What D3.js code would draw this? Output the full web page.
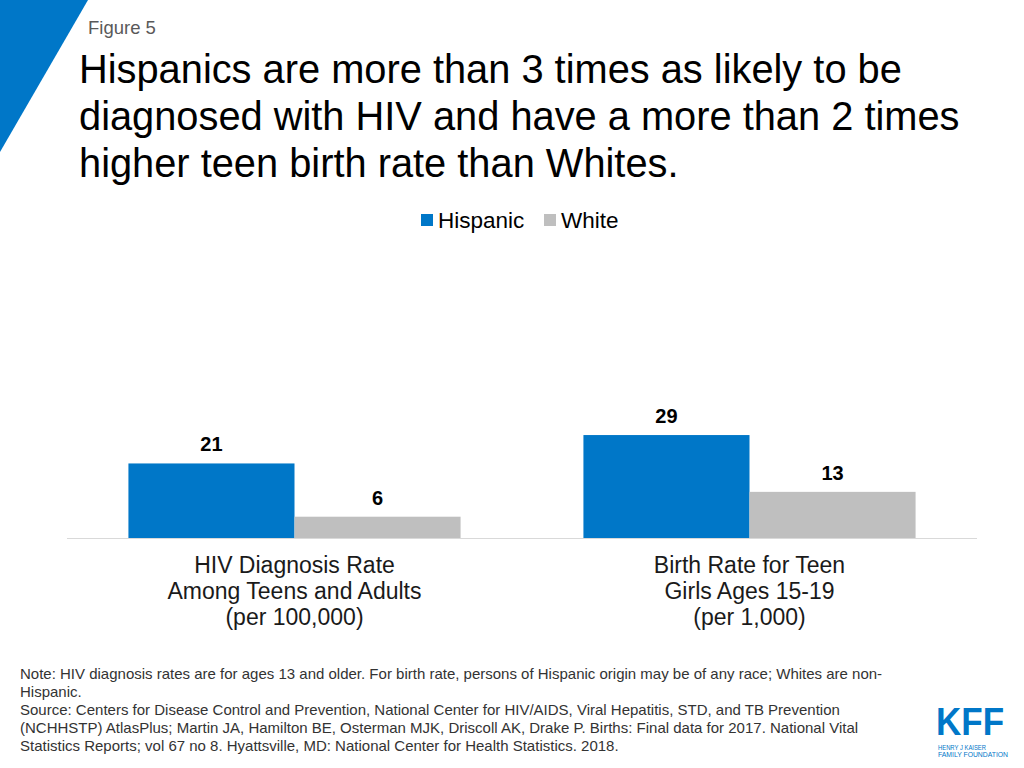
<!DOCTYPE html>
<html>
<head>
<meta charset="utf-8">
<script src="https://cdn.jsdelivr.net/npm/d3@7"></script>
<style>
  body { margin: 0; background: #fff; }
  text { font-family: "Liberation Sans", Arial, sans-serif; }
</style>
</head>
<body>
<svg id="chart" width="1024" height="768"></svg>
<script>
const categories = [
  ['HIV Diagnosis Rate', 'Among Teens and Adults', '(per 100,000)'],
  ['Birth Rate for Teen', 'Girls Ages 15-19', '(per 1,000)']
];
const series = ['Hispanic', 'White'];
const hispanic = [21, 29];
const white = [6, 13];
const colors = ['#0077c8', '#bfbfbf'];

const title_lines = [
  'Hispanics are more than 3 times as likely to be',
  'diagnosed with HIV and have a more than 2 times',
  'higher teen birth rate than Whites.'
];
const note_lines = [
  'Note: HIV diagnosis rates are for ages 13 and older. For birth rate, persons of Hispanic origin may be of any race; Whites are non-',
  'Hispanic.',
  'Source: Centers for Disease Control and Prevention, National Center for HIV/AIDS, Viral Hepatitis, STD, and TB Prevention',
  '(NCHHSTP) AtlasPlus; Martin JA, Hamilton BE, Osterman MJK, Driscoll AK, Drake P. Births: Final data for 2017. National Vital',
  'Statistics Reports; vol 67 no 8. Hyattsville, MD: National Center for Health Statistics. 2018.'
];

const svg = d3.select('#chart');

// corner triangle
svg.append('polygon')
  .attr('points', '0,0 88,0 0,152')
  .attr('fill', '#0077c8');

svg.append('text')
  .attr('x', 88).attr('y', 34)
  .attr('font-size', 18.5).attr('fill', '#595959')
  .text('Figure 5');

svg.append('g').selectAll('text')
  .data(title_lines)
  .join('text')
  .attr('x', 79)
  .attr('y', (d, i) => 83 + i * 47)
  .attr('font-size', 39.8)
  .attr('fill', '#000')
  .text(d => d);

// legend
const legend = svg.append('g');
const legend_x = [421, 544];
series.forEach(function(s, i) {
  legend.append('rect')
    .attr('x', legend_x[i]).attr('y', 214)
    .attr('width', 12).attr('height', 12)
    .attr('fill', colors[i]);
  legend.append('text')
    .attr('x', legend_x[i] + 17).attr('y', 228)
    .attr('font-size', 22.5).attr('fill', '#000')
    .text(s);
});

// scales
const x0 = d3.scaleBand()
  .domain(d3.range(categories.length))
  .range([67, 977])
  .paddingInner(0.27)
  .paddingOuter(0.135);
const x1 = d3.scaleBand()
  .domain(series)
  .range([0, x0.bandwidth()]);
const y = d3.scaleLinear()
  .domain([0, 60])
  .range([538, 325]);

const rows = categories.map((c, i) => ({ idx: i, values: [hispanic[i], white[i]] }));

const groups = svg.append('g').selectAll('g')
  .data(rows)
  .join('g')
  .attr('transform', d => 'translate(' + x0(d.idx) + ',0)');

groups.selectAll('rect')
  .data(d => d.values.map((v, j) => ({ key: series[j], value: v, j: j })))
  .join('rect')
  .attr('x', d => x1(d.key))
  .attr('y', d => y(d.value))
  .attr('width', x1.bandwidth())
  .attr('height', d => y(0) - y(d.value))
  .attr('fill', d => colors[d.j]);

groups.selectAll('text.val')
  .data(d => d.values.map((v, j) => ({ key: series[j], value: v })))
  .join('text')
  .attr('class', 'val')
  .attr('x', d => x1(d.key) + x1.bandwidth() / 2)
  .attr('y', d => y(d.value) - 12)
  .attr('text-anchor', 'middle')
  .attr('font-size', 20).attr('font-weight', 'bold')
  .attr('fill', '#000')
  .text(d => d.value);

// baseline
svg.append('line')
  .attr('x1', 67).attr('x2', 977)
  .attr('y1', y(0) + 0.5).attr('y2', y(0) + 0.5)
  .attr('stroke', '#d9d9d9').attr('stroke-width', 1);

// category labels
rows.forEach(function(r) {
  const cx = x0(r.idx) + x0.bandwidth() / 2;
  svg.append('g').selectAll('text')
    .data(categories[r.idx])
    .join('text')
    .attr('x', cx)
    .attr('y', (d, i) => 573 + i * 26)
    .attr('text-anchor', 'middle')
    .attr('font-size', 23).attr('fill', '#1a1a1a')
    .text(d => d);
});

// notes
svg.append('g').selectAll('text')
  .data(note_lines)
  .join('text')
  .attr('x', 20)
  .attr('y', (d, i) => 679 + i * 18)
  .attr('font-size', 15).attr('fill', '#333')
  .text(d => d);

// logo
const logo = svg.append('g');
logo.append('text')
  .attr('x', 936).attr('y', 735)
  .attr('font-size', 38).attr('font-weight', 'bold')
  .attr('fill', '#0077c8')
  .attr('textLength', 68).attr('lengthAdjust', 'spacingAndGlyphs')
  .text('KFF');
logo.append('text')
  .attr('x', 938).attr('y', 750)
  .attr('font-size', 6.5).attr('fill', '#0077c8')
  .attr('textLength', 48).attr('lengthAdjust', 'spacingAndGlyphs')
  .text('HENRY J KAISER');
logo.append('text')
  .attr('x', 938).attr('y', 757)
  .attr('font-size', 6.5).attr('fill', '#0077c8')
  .attr('textLength', 70).attr('lengthAdjust', 'spacingAndGlyphs')
  .text('FAMILY FOUNDATION');
</script>
</body>
</html>
